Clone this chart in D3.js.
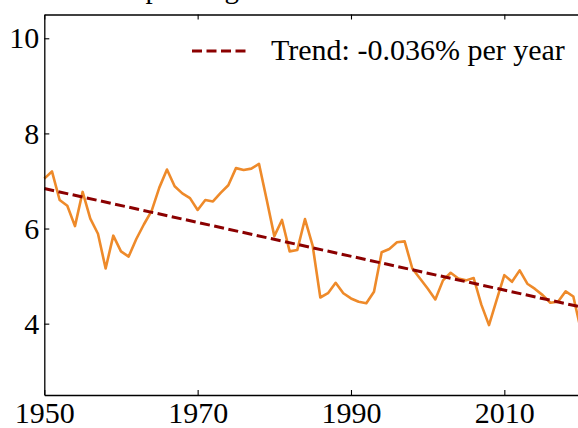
<!DOCTYPE html>
<html>
<head>
<meta charset="utf-8">
<script src="https://cdn.jsdelivr.net/npm/d3@7"></script>
<style>
  html, body { margin: 0; padding: 0; background: #fff; }
  svg { display: block; }
  text { font-family: "Liberation Serif", "DejaVu Serif", serif; fill: #000; }
</style>
</head>
<body>
<svg id="chart" width="578" height="428"></svg>
<script>
const years = [1950,1951,1952,1953,1954,1955,1956,1957,1958,1959,
  1960,1961,1962,1963,1964,1965,1966,1967,1968,1969,
  1970,1971,1972,1973,1974,1975,1976,1977,1978,1979,
  1980,1981,1982,1983,1984,1985,1986,1987,1988,1989,
  1990,1991,1992,1993,1994,1995,1996,1997,1998,1999,
  2000,2001,2002,2003,2004,2005,2006,2007,2008,2009,
  2010,2011,2012,2013,2014,2015,2016,2017,2018,2019,2020];
const values = [7.05,7.20,6.60,6.48,6.05,6.77,6.21,5.89,5.16,5.85,
  5.52,5.41,5.78,6.09,6.37,6.86,7.24,6.89,6.74,6.64,
  6.39,6.60,6.57,6.75,6.91,7.27,7.23,7.26,7.36,6.61,
  5.84,6.18,5.52,5.55,6.20,5.64,4.55,4.64,4.86,4.64,
  4.53,4.46,4.43,4.67,5.50,5.57,5.71,5.73,5.16,4.95,
  4.74,4.51,4.91,5.07,4.95,4.91,4.96,4.40,3.97,4.50,
  5.02,4.88,5.12,4.84,4.73,4.60,4.44,4.46,4.68,4.57,3.85];
const trendYears = [1950, 2020];
const trendValues = [6.84, 4.35];
const xTicks = [1950, 1970, 1990, 2010];
const yTicks = [4, 6, 8, 10];
const legendLabel = "Trend: -0.036% per year";
const titleText = "Public Spending";

(function () {
const svg = d3.select("#chart");
const mLeft = 44.3, mRight = 581, mTop = 14.5, mBottom = 395;
const x = d3.scaleLinear().domain([1950, 2020]).range([mLeft, mRight]);
const y = d3.scaleLinear().domain([2.5, 10.5]).range([mBottom, mTop]);

// partially visible title (cut off at top, as in the reference)
svg.append("text").attr("x", 48).attr("y", -2)
  .attr("font-size", 29).text(titleText);

// data line
const line = d3.line().x((d, i) => x(years[i])).y(d => y(d));
svg.append("path").datum(values)
  .attr("fill", "none").attr("stroke", "#ee8a2a")
  .attr("stroke-width", 2.6).attr("stroke-linejoin", "round")
  .attr("d", line);

// trend line
const tline = d3.line().x((d, i) => x(trendYears[i])).y(d => y(d));
svg.append("path").datum(trendValues)
  .attr("fill", "none").attr("stroke", "#8b0000")
  .attr("stroke-width", 3).attr("stroke-dasharray", "10,4.5")
  .attr("d", tline);

// axes
const fs = 30;
const gx = svg.append("g").attr("transform", `translate(0,${mBottom})`)
  .call(d3.axisBottom(x).tickValues(xTicks).tickFormat(d3.format("d"))
    .tickSizeInner(-5).tickSizeOuter(0).tickPadding(7));
const gxt = svg.append("g").attr("transform", `translate(0,${mTop})`)
  .call(d3.axisTop(x).tickValues(xTicks).tickFormat("")
    .tickSizeInner(-5).tickSizeOuter(0));
const gy = svg.append("g").attr("transform", `translate(${mLeft},0)`)
  .call(d3.axisLeft(y).tickValues(yTicks).tickFormat(d3.format("d"))
    .tickSizeInner(-5).tickSizeOuter(0).tickPadding(5));
[gx, gxt, gy].forEach(g => {
  g.selectAll(".domain").attr("stroke", "#000").attr("stroke-width", 1.3);
  g.selectAll(".tick line").attr("stroke", "#000").attr("stroke-width", 1.1);
  g.selectAll("text").attr("font-size", fs)
    .attr("font-family", "'Liberation Serif', serif").attr("fill", "#000");
});

// legend
const lg = svg.append("g");
lg.append("line").attr("x1", 192).attr("x2", 248).attr("y1", 51).attr("y2", 51)
  .attr("stroke", "#8b0000").attr("stroke-width", 3).attr("stroke-dasharray", "10,4.5");
lg.append("text").attr("x", 271).attr("y", 59.5).attr("font-size", 30).text(legendLabel);
})();
</script>
</body>
</html>
